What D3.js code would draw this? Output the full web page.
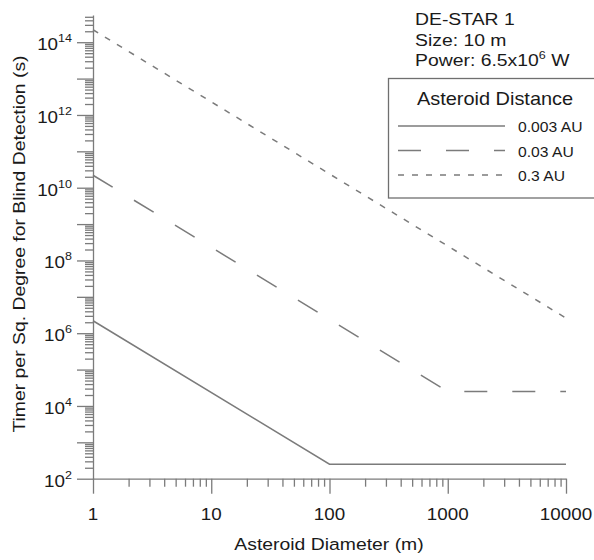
<!DOCTYPE html>
<html>
<head>
<meta charset="utf-8">
<script src="https://cdn.jsdelivr.net/npm/d3@7"></script>
<style>
  html, body { margin: 0; padding: 0; background: #fff; }
  svg { display: block; }
  text { font-family: "Liberation Sans", Arial, sans-serif; fill: #1a1a1a; }
</style>
</head>
<body>
<svg id="chart" width="594" height="560"></svg>
<script>
// ---- Data ----
const seriesNames = ["0.003 AU", "0.03 AU", "0.3 AU"];
// [asteroid diameter (m), time per sq. degree (s)]
const series003 = [[1, 2.2e6], [100, 2.5e2], [10000, 2.5e2]];
const series03  = [[1, 2.2e10], [1000, 2.5e4], [10000, 2.5e4]];
const series3   = [[1, 2.2e14], [10000, 2.6e6]];
const xTickValues = [1, 10, 100, 1000, 10000];
const xTickLabels = ["1", "10", "100", "1000", "10000"];
const yLabelExponents = [2, 4, 6, 8, 10, 12, 14];
const annotationLines = ["DE-STAR 1", "Size: 10 m"];
const legendTitle = "Asteroid Distance";

// ---- Layout ----
const svg = d3.select("#chart");
const grey = "#7b7b7b";
const x = d3.scaleLog().domain([1, 10000]).range([93, 566]);
const y = d3.scaleLog().domain([100, 5.6e14]).range([478.7, 15]);
const SX = 1.14; // horizontal stretch of glyphs

// Y ticks
const yMajor = d3.range(2, 15).map(e => Math.pow(10, e));
const yMinor = [];
for (let e = 2; e <= 14; e++) for (let m = 2; m <= 9; m++) {
  const v = m * Math.pow(10, e);
  if (v <= y.domain()[1]) yMinor.push(v);
}
const xMinor = [];
for (let e = 0; e < 4; e++) for (let m = 2; m <= 9; m++) xMinor.push(m * Math.pow(10, e));

function styleAxis(g) {
  g.selectAll("path, line").attr("stroke", grey).attr("stroke-width", 1.3);
  g.selectAll("text").remove();
}

svg.append("g").attr("transform", "translate(93,0)")
  .call(d3.axisLeft(y).tickValues(yMinor).tickSize(8).tickSizeOuter(0).tickFormat(""))
  .call(styleAxis).select(".domain").remove();
svg.append("g").attr("transform", "translate(93,0)")
  .call(d3.axisLeft(y).tickValues(yMajor).tickSize(16).tickSizeOuter(0).tickFormat(""))
  .call(styleAxis);

svg.append("g").attr("transform", "translate(0,478.7)")
  .call(d3.axisBottom(x).tickValues(xMinor).tickSize(8).tickSizeOuter(0).tickFormat(""))
  .call(styleAxis).select(".domain").remove();
svg.append("g").attr("transform", "translate(0,478.7)")
  .call(d3.axisBottom(x).tickValues(xTickValues).tickSize(15).tickSizeOuter(0).tickFormat(""))
  .call(styleAxis);

// Y tick labels 10^n
yLabelExponents.forEach(e => {
  const t = svg.append("text")
    .attr("transform", `translate(72,${y(Math.pow(10, e)) + 8}) scale(${SX},1)`)
    .attr("text-anchor", "end")
    .style("font-size", "16.5px");
  t.append("tspan").text("10");
  t.append("tspan").attr("dy", -8).style("font-size", "11px").text(String(e));
});

// X tick labels
xTickValues.forEach((v, i) => {
  svg.append("text")
    .attr("transform", `translate(${x(v)},520) scale(${SX},1)`)
    .attr("text-anchor", "middle")
    .style("font-size", "16.5px")
    .text(xTickLabels[i]);
});

// Axis titles
svg.append("text")
  .attr("transform", `translate(329,550) scale(${SX},1)`)
  .attr("text-anchor", "middle").style("font-size", "17px")
  .text("Asteroid Diameter (m)");
svg.append("text")
  .attr("transform", `translate(25,244) rotate(-90) scale(${SX},1)`)
  .attr("text-anchor", "middle").style("font-size", "17px")
  .text("Timer per Sq. Degree for Blind Detection (s)");

// Data lines
const line = d3.line().x(d => x(d[0])).y(d => y(d[1]));
const dashes = ["none", "23,25", "6,8"];
[series003, series03, series3].forEach((s, i) => {
  svg.append("path").datum(s)
    .attr("d", line)
    .attr("fill", "none")
    .attr("stroke", grey)
    .attr("stroke-width", 1.5)
    .attr("stroke-dasharray", dashes[i]);
});

// Annotation
annotationLines.forEach((s, i) => {
  svg.append("text")
    .attr("transform", `translate(415,${25 + i * 20.5}) scale(${SX},1)`)
    .style("font-size", "17px").text(s);
});
{
  const t = svg.append("text")
    .attr("transform", `translate(415,65.5) scale(${SX},1)`)
    .style("font-size", "17px");
  t.append("tspan").text("Power: 6.5x10");
  t.append("tspan").attr("dy", -7).style("font-size", "11px").text("6");
  t.append("tspan").attr("dy", 7).text(" W");
}

// Legend
svg.append("rect")
  .attr("x", 388.5).attr("y", 78.5).attr("width", 220).attr("height", 119.5)
  .attr("fill", "none").attr("stroke", "#6f6f6f").attr("stroke-width", 1.3);
svg.append("text")
  .attr("transform", `translate(495,105) scale(${SX},1)`)
  .attr("text-anchor", "middle").style("font-size", "17.5px")
  .text(legendTitle);
seriesNames.forEach((name, i) => {
  const yy = 126 + i * 24.5;
  svg.append("line")
    .attr("x1", 398).attr("x2", 505).attr("y1", yy).attr("y2", yy)
    .attr("stroke", grey).attr("stroke-width", 1.5)
    .attr("stroke-dasharray", dashes[i]);
  svg.append("text")
    .attr("transform", `translate(518,${yy + 6}) scale(1.12,1)`)
    .style("font-size", "14px").text(name);
});
</script>
</body>
</html>
